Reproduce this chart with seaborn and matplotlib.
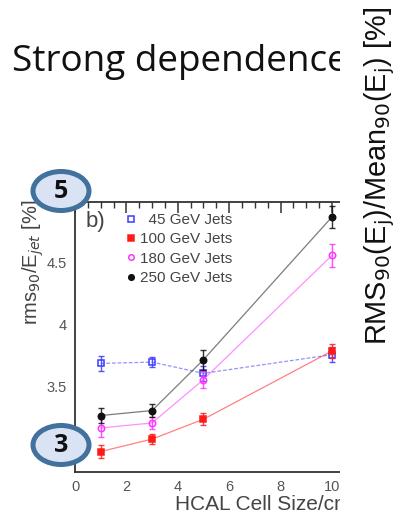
import matplotlib
matplotlib.use("Agg")
import matplotlib.pyplot as plt
from matplotlib.patches import Rectangle, Ellipse
from matplotlib.lines import Line2D
from matplotlib.ticker import MultipleLocator
import pandas as pd
import seaborn as sns

# HCAL cell size [cm]
cell_size = [1, 3, 5, 10]

# rms90 / E_jet [%] for each jet energy
res_45 = [3.69, 3.70, 3.61, 3.76]
res_100 = [2.98, 3.08, 3.24, 3.79]
res_180 = [3.17, 3.21, 3.56, 4.56]
res_250 = [3.27, 3.31, 3.72, 4.87]

# statistical uncertainties
err_45 = [0.06, 0.04, 0.06, 0.06]
err_100 = [0.05, 0.04, 0.05, 0.06]
err_180 = [0.07, 0.05, 0.07, 0.09]
err_250 = [0.06, 0.05, 0.08, 0.09]

labels = ["\u200745 GeV Jets", "100 GeV Jets", "180 GeV Jets", "250 GeV Jets"]

sns.set_theme(style="white")
plt.rcParams["font.family"] = ["Liberation Sans", "DejaVu Sans"]

W, H = 404, 521
fig = plt.figure(figsize=(W / 100, H / 100), dpi=100)
fig.patch.set_facecolor("white")


def fx(px):
    return px / W


def fy(py):
    return 1 - py / H


ax = fig.add_axes([fx(75), fy(472), fx(360) - fx(75), fy(202) - fy(472)])
ax.set_facecolor("white")

series = [
    (res_45, err_45, "#3a3aff", "s", "none", (0, (3, 1.5))),
    (res_100, err_100, "#ff1a1a", "s", "#ff1a1a", "-"),
    (res_180, err_180, "#ff33ff", "o", "none", "-"),
    (res_250, err_250, "#111111", "o", "#111111", "-"),
]

for (vals, errs, col, mk, face, ls), lab in zip(series, labels):
    df = pd.DataFrame({"size": cell_size, "res": vals})
    sns.lineplot(data=df, x="size", y="res", ax=ax, color=col, lw=0.9,
                 alpha=0.55, linestyle=ls, legend=False)
    ax.errorbar(cell_size, vals, yerr=errs, fmt="none", ecolor=col,
                elinewidth=1.0, capsize=2.5, capthick=1.0, alpha=0.85)
    ax.plot(cell_size, vals, linestyle="none", marker=mk, ms=4.6,
            mfc=face, mec=col, mew=1.1)

ax.set_xlim(0, (360 - 75) / 25.7)
ax.set_ylim(2.815, 4.99)
ax.xaxis.set_major_locator(MultipleLocator(2))
ax.xaxis.set_minor_locator(MultipleLocator(0.5))
ax.yaxis.set_major_locator(MultipleLocator(0.5))
ax.yaxis.set_minor_locator(MultipleLocator(0.1))
ax.set_yticks([3.5, 4, 4.5])
ax.set_yticklabels(["3.5", "4", "4.5"])
ax.tick_params(which="both", direction="in", top=True, right=False,
               colors="#333333", labelcolor="#555555", labelsize=10.5)
ax.tick_params(which="major", length=8, width=1.1, pad=6)
ax.tick_params(which="minor", length=4, width=1.0)
for s in ax.spines.values():
    s.set_color("#333333")
    s.set_linewidth(1.3)

ax.set_xlabel("HCAL Cell Size/cm", fontsize=15, color="#444444")
ax.xaxis.set_label_coords((175 - 75) / 285, -(505 - 472) / 270)
ax.xaxis.label.set_ha("left")
ax.xaxis.label.set_va("center")
ax.set_ylabel(r"rms$_{90}$/E$_{jet}$ [%]", fontsize=14.5, color="#444444")
ax.yaxis.set_label_coords(-(75 - 33) / 285, 1 + (202 - 200) / 270)
ax.yaxis.label.set_rotation_mode("anchor")
ax.yaxis.label.set_ha("right")
ax.yaxis.label.set_va("center")

handles = [Line2D([], [], linestyle="none", marker=mk, ms=4, mfc=face,
                  mec=col, mew=1.1)
           for (_, _, col, mk, face, _) in series]
leg = ax.legend(handles, labels, loc="upper left",
                bbox_to_anchor=((127 - 75) / 285, 1 - (213 - 202) / 270),
                bbox_transform=ax.transAxes, frameon=False, fontsize=11,
                handlelength=0.5, handletextpad=0.35, labelspacing=0.35,
                borderaxespad=0, borderpad=0)
for t in leg.get_texts():
    t.set_color("#444444")
ax.text((86 - 75) / 285, 1 - (222 - 202) / 270, "b)", transform=ax.transAxes,
        fontsize=16, color="#444444", va="center", ha="left")

# slide heading, partly hidden behind the panel on the right
fig.text(fx(12), fy(71), "Strong dependence", fontsize=26.6,
         family=["Open Sans", "DejaVu Sans"], color="#111111",
         ha="left", va="baseline", zorder=1)

# white panel on the right with the large rotated axis title
fig.add_artist(Rectangle((fx(340), 0), 1 - fx(340), 1,
                         transform=fig.transFigure, facecolor="white",
                         edgecolor="none", zorder=5))
big = fig.text(fx(380), fy(345),
               r"RMS$_{90}$(E$_{\rm j}$)/Mean$_{90}$(E$_{\rm j}$) [%]",
               rotation=90, fontsize=28, color="#111111", ha="center",
               va="bottom", zorder=6)
renderer = fig.canvas.get_renderer()
span = big.get_window_extent(renderer).height
big.set_fontsize(28 * 337 / span)

# numbered badges
for num, cy in (("5", 191), ("3", 445)):
    fig.add_artist(Ellipse((fx(61), fy(cy)), fx(56), 39 / H,
                           transform=fig.transFigure, facecolor="#dae3f3",
                           edgecolor="#41719c", lw=3.6, zorder=7))
    fig.text(fx(61), fy(cy + 1), num, fontsize=18, fontweight="bold",
             family=["Open Sans", "DejaVu Sans"], color="#111111",
             ha="center", va="center", zorder=8)

fig.savefig("out.png", dpi=100, facecolor="white")
